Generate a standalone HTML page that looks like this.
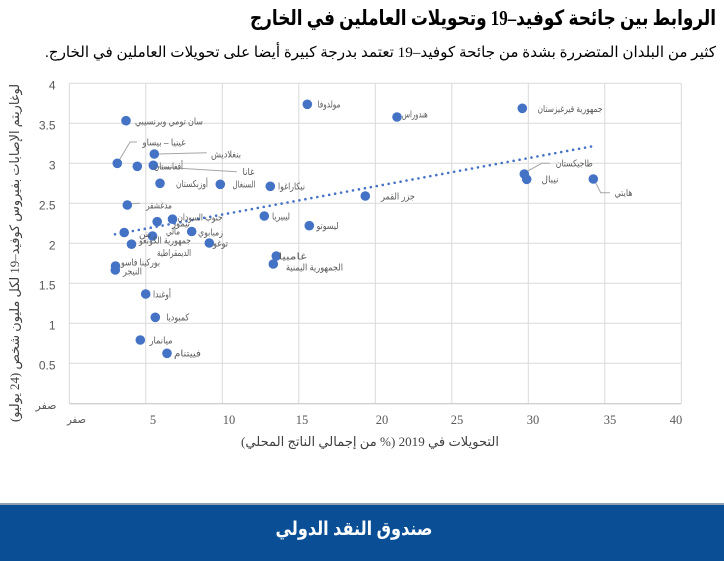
<!DOCTYPE html>
<html>
<head>
<meta charset="utf-8">
<style>
html,body{margin:0;padding:0;background:#fff;}
svg{display:block;}
.ar{font-family:"Liberation Sans","DejaVu Sans",sans-serif;}
.lbl{font-family:"Liberation Sans","DejaVu Sans",sans-serif;font-size:9.5px;fill:#595959;}
</style>
</head>
<body>
<svg width="724" height="561" viewBox="0 0 724 561" xmlns="http://www.w3.org/2000/svg">
<rect x="0" y="0" width="724" height="561" fill="#fff"/>

<!-- Title -->
<text x="483" y="25" direction="rtl" text-anchor="middle" textLength="466" lengthAdjust="spacingAndGlyphs" font-family="'Liberation Serif','DejaVu Sans',serif" font-weight="bold" font-size="21" fill="#000">الروابط بين جائحة كوفيد–19 وتحويلات العاملين في الخارج</text>
<!-- Subtitle -->
<text x="380.5" y="57" direction="rtl" text-anchor="middle" textLength="671" lengthAdjust="spacingAndGlyphs" font-family="'Liberation Serif','DejaVu Sans',serif" font-size="15" fill="#000">كثير من البلدان المتضررة بشدة من جائحة كوفيد–19 تعتمد بدرجة كبيرة أيضا على تحويلات العاملين في الخارج.</text>

<!-- gridlines -->
<g stroke="#d9d9d9" stroke-width="1">
<line x1="69.3" y1="83.3" x2="681.3" y2="83.3"/>
<line x1="69.3" y1="123.3" x2="681.3" y2="123.3"/>
<line x1="69.3" y1="163.3" x2="681.3" y2="163.3"/>
<line x1="69.3" y1="203.3" x2="681.3" y2="203.3"/>
<line x1="69.3" y1="243.3" x2="681.3" y2="243.3"/>
<line x1="69.3" y1="283.3" x2="681.3" y2="283.3"/>
<line x1="69.3" y1="323.3" x2="681.3" y2="323.3"/>
<line x1="69.3" y1="363.3" x2="681.3" y2="363.3"/>
<line x1="69.3" y1="83.3" x2="69.3" y2="403.3"/>
<line x1="145.8" y1="83.3" x2="145.8" y2="403.3"/>
<line x1="222.3" y1="83.3" x2="222.3" y2="403.3"/>
<line x1="298.8" y1="83.3" x2="298.8" y2="403.3"/>
<line x1="375.3" y1="83.3" x2="375.3" y2="403.3"/>
<line x1="451.8" y1="83.3" x2="451.8" y2="403.3"/>
<line x1="528.3" y1="83.3" x2="528.3" y2="403.3"/>
<line x1="604.8" y1="83.3" x2="604.8" y2="403.3"/>
<line x1="681.3" y1="83.3" x2="681.3" y2="403.3"/>
</g>
<line x1="69.3" y1="403.8" x2="681.3" y2="403.8" stroke="#bfbfbf" stroke-width="1"/>

<!-- y tick labels -->
<g font-family="'Liberation Sans','DejaVu Sans',sans-serif" font-size="12" fill="#595959" text-anchor="end">
<text x="55.5" y="89.5">4</text>
<text x="55.5" y="129.5">3.5</text>
<text x="55.5" y="169.5">3</text>
<text x="55.5" y="209.5">2.5</text>
<text x="55.5" y="249.5">2</text>
<text x="55.5" y="289.5">1.5</text>
<text x="55.5" y="329.5">1</text>
<text x="55.5" y="369.5">0.5</text>
</g>
<text x="46" y="409" direction="rtl" text-anchor="middle" textLength="21" lengthAdjust="spacingAndGlyphs" class="ar" font-size="11" fill="#595959">صفر</text>

<!-- x tick labels -->
<g font-family="'Liberation Serif','DejaVu Serif',serif" font-size="12.5" fill="#595959" text-anchor="middle">
<text x="153" y="424">5</text>
<text x="229" y="424">10</text>
<text x="302" y="424">15</text>
<text x="382" y="424">20</text>
<text x="457" y="424">25</text>
<text x="533" y="424">30</text>
<text x="610" y="424">35</text>
<text x="676" y="424">40</text>
</g>
<text x="76.5" y="423" direction="rtl" text-anchor="middle" textLength="19" lengthAdjust="spacingAndGlyphs" class="ar" font-size="11" fill="#595959">صفر</text>

<!-- x-axis title -->
<text x="370" y="446" direction="rtl" text-anchor="middle" textLength="258" lengthAdjust="spacingAndGlyphs" font-family="'Liberation Serif','DejaVu Sans',serif" font-size="13" fill="#404040">التحويلات في 2019 (% من إجمالي الناتج المحلي)</text>

<!-- y-axis title -->
<text transform="translate(19,253) rotate(-90)" x="0" y="0" direction="rtl" text-anchor="middle" textLength="338" lengthAdjust="spacingAndGlyphs" font-family="'Liberation Serif','DejaVu Sans',serif" font-size="13" fill="#404040">لوغاريتم الإصابات بفيروس كوفيد–19 لكل مليون شخص (24 يوليو)</text>

<!-- trend line -->
<line x1="115" y1="234.3" x2="594" y2="146" stroke="#4472c4" stroke-width="2.6" stroke-linecap="round" stroke-dasharray="0 6.05"/>

<!-- leader lines -->
<g stroke="#a6a6a6" stroke-width="1" fill="none">
<polyline points="118.5,161.5 130,142 137,142"/>
<polyline points="158.3,154 206.7,152.7"/>
<polyline points="155,166.7 236.7,171.7"/>
<polyline points="128.3,204 140,203.3"/>
<polyline points="526.7,171.7 541.7,163.3 550,163.3"/>
<polyline points="594.3,180 600.7,192.7 610,192.7"/>
</g>

<!-- points -->
<g fill="#4472c4">
<circle cx="126" cy="120.7" r="4.8"/>
<circle cx="117.3" cy="163.3" r="4.8"/>
<circle cx="137.3" cy="166.3" r="4.8"/>
<circle cx="153.3" cy="165.3" r="4.8"/>
<circle cx="154.3" cy="154" r="4.8"/>
<circle cx="160" cy="183.3" r="4.8"/>
<circle cx="220.3" cy="184.3" r="4.8"/>
<circle cx="270.3" cy="186.3" r="4.8"/>
<circle cx="127.3" cy="205" r="4.8"/>
<circle cx="172.5" cy="219.2" r="4.8"/>
<circle cx="157.2" cy="221.7" r="4.8"/>
<circle cx="124.2" cy="232.5" r="4.8"/>
<circle cx="152.5" cy="236" r="4.8"/>
<circle cx="191.7" cy="231.5" r="4.8"/>
<circle cx="131.5" cy="244.2" r="4.8"/>
<circle cx="209.3" cy="243" r="4.8"/>
<circle cx="115.5" cy="266" r="4.8"/>
<circle cx="115.3" cy="270" r="4.8"/>
<circle cx="145.7" cy="294" r="4.8"/>
<circle cx="155.3" cy="317.3" r="4.8"/>
<circle cx="140.3" cy="340" r="4.8"/>
<circle cx="167" cy="353.3" r="4.8"/>
<circle cx="264.3" cy="216" r="4.8"/>
<circle cx="309.3" cy="225.7" r="4.8"/>
<circle cx="276.3" cy="256" r="4.8"/>
<circle cx="273.3" cy="264" r="4.8"/>
<circle cx="307.3" cy="104.3" r="4.8"/>
<circle cx="397" cy="117" r="4.8"/>
<circle cx="522.3" cy="108.3" r="4.8"/>
<circle cx="365.3" cy="196" r="4.8"/>
<circle cx="524.3" cy="174" r="4.8"/>
<circle cx="526.7" cy="179.3" r="4.8"/>
<circle cx="593.3" cy="179" r="4.8"/>
</g>

<!-- point labels -->
<g class="lbl" text-anchor="middle" direction="rtl" lengthAdjust="spacingAndGlyphs">
<text x="169" y="124.5" textLength="68" lengthAdjust="spacingAndGlyphs">سان تومي وبرنسيبي</text>
<text x="164" y="145.5" textLength="43" lengthAdjust="spacingAndGlyphs">غينيا – بيساو</text>
<text x="226" y="157.5" textLength="30" lengthAdjust="spacingAndGlyphs">بنغلاديش</text>
<text x="168.5" y="169.5" textLength="29" lengthAdjust="spacingAndGlyphs">أفغانستان</text>
<text x="248.5" y="175" textLength="12" lengthAdjust="spacingAndGlyphs">غانا</text>
<text x="192" y="187" textLength="32" lengthAdjust="spacingAndGlyphs">أوزبكستان</text>
<text x="244" y="187.5" textLength="23" lengthAdjust="spacingAndGlyphs">السنغال</text>
<text x="291.5" y="189.5" textLength="27" lengthAdjust="spacingAndGlyphs">نيكاراغوا</text>
<text x="159" y="208.5" textLength="26" lengthAdjust="spacingAndGlyphs">مدغشقر</text>
<text x="200" y="220.5" textLength="45" lengthAdjust="spacingAndGlyphs">جنوب السودان</text>
<text x="181" y="226.5" textLength="18" lengthAdjust="spacingAndGlyphs">تيمور</text>
<text x="145" y="237" textLength="12" lengthAdjust="spacingAndGlyphs">بنن</text>
<text x="173" y="234.5" textLength="14" lengthAdjust="spacingAndGlyphs">مالي</text>
<text x="210.5" y="235.5" textLength="25" lengthAdjust="spacingAndGlyphs">زمبابوي</text>
<text x="165" y="243.5" textLength="52" lengthAdjust="spacingAndGlyphs">جمهورية الكونغو</text>
<text x="174" y="256" textLength="34" lengthAdjust="spacingAndGlyphs">الديمقراطية</text>
<text x="220.5" y="246.5" textLength="15" lengthAdjust="spacingAndGlyphs">توغو</text>
<text x="140.5" y="265.5" textLength="39" lengthAdjust="spacingAndGlyphs">بوركينا فاسو</text>
<text x="132.5" y="274.5" textLength="19" lengthAdjust="spacingAndGlyphs">النيجر</text>
<text x="162" y="297.5" textLength="18" lengthAdjust="spacingAndGlyphs">أوغندا</text>
<text x="177.7" y="320.5" textLength="23" lengthAdjust="spacingAndGlyphs">كمبوديا</text>
<text x="161" y="343.5" textLength="23" lengthAdjust="spacingAndGlyphs">ميانمار</text>
<text x="187.5" y="356.5" textLength="27" lengthAdjust="spacingAndGlyphs">فييتنام</text>
<text x="281" y="219.5" textLength="18" lengthAdjust="spacingAndGlyphs">ليبيريا</text>
<text x="327.5" y="229" textLength="22" lengthAdjust="spacingAndGlyphs">ليسوتو</text>
<text x="292.7" y="259.5" textLength="28" lengthAdjust="spacingAndGlyphs">غامبيا</text>
<text x="314.5" y="270.5" textLength="57" lengthAdjust="spacingAndGlyphs">الجمهورية اليمنية</text>
<text x="329" y="107.5" textLength="23" lengthAdjust="spacingAndGlyphs">مولدوفا</text>
<text x="414.7" y="117.5" textLength="26" lengthAdjust="spacingAndGlyphs">هندوراس</text>
<text x="570" y="112" textLength="65" lengthAdjust="spacingAndGlyphs">جمهورية قيرغيزستان</text>
<text x="398" y="199.5" textLength="34" lengthAdjust="spacingAndGlyphs">جزر القمر</text>
<text x="574.3" y="166.5" textLength="37" lengthAdjust="spacingAndGlyphs">طاجيكستان</text>
<text x="550" y="182.5" textLength="17" lengthAdjust="spacingAndGlyphs">نيبال</text>
<text x="623.5" y="196" textLength="18" lengthAdjust="spacingAndGlyphs">هايتي</text>
</g>

<!-- footer band -->
<rect x="0" y="503" width="724" height="3" fill="#8fa0b4"/>
<rect x="0" y="505" width="724" height="56" fill="#0a4f95"/>
<text x="354" y="535" direction="rtl" text-anchor="middle" textLength="157" lengthAdjust="spacingAndGlyphs" font-family="'Liberation Sans','DejaVu Sans',sans-serif" font-weight="bold" font-size="19" fill="#fff">صندوق النقد الدولي</text>
</svg>
</body>
</html>
